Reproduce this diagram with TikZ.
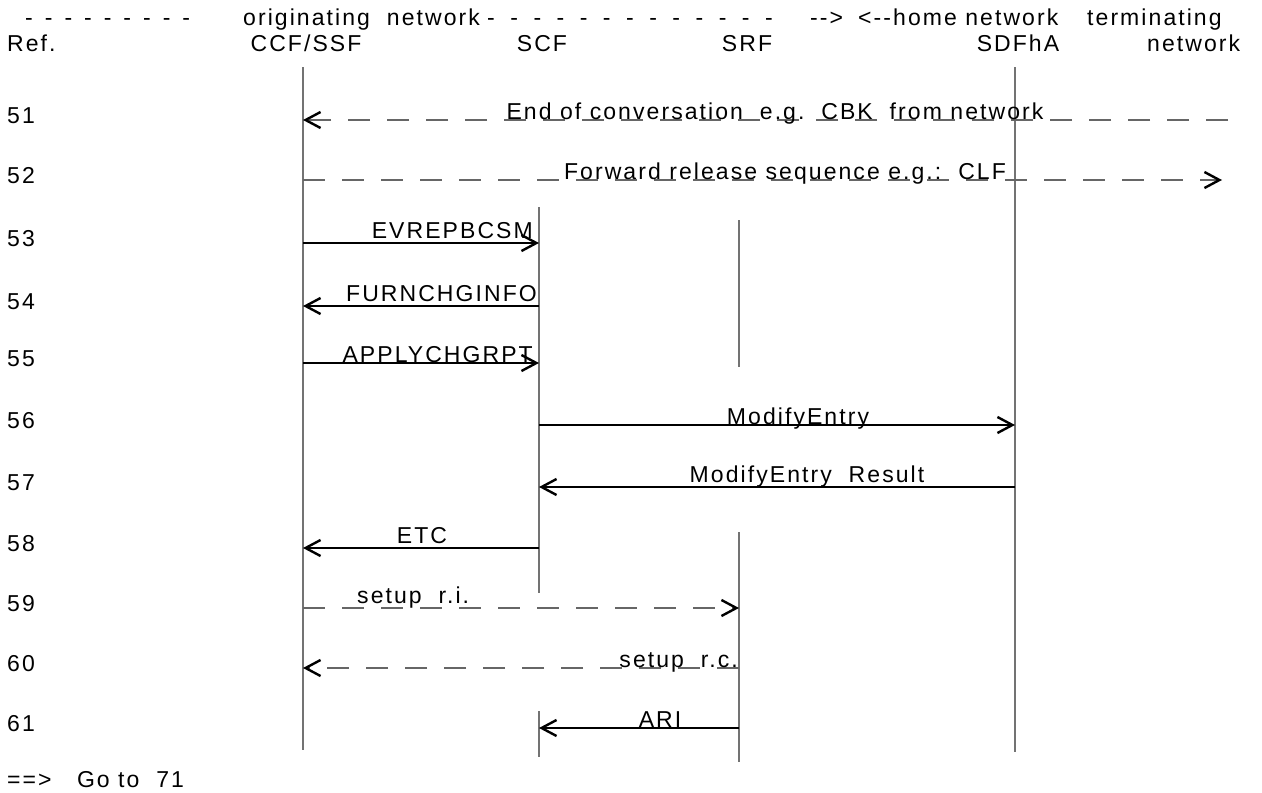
\documentclass[tikz,border=0pt]{standalone}
\usepackage{fontspec}
\setmainfont{Liberation Sans}[LetterSpace=9]
\usetikzlibrary{arrows.meta}
\newcommand\hdA{-\hspace{12pt}}
\newcommand\hdB{-\hspace{15.5pt}}
\begin{document}
\begin{tikzpicture}[x=1pt,y=-1pt,
  every node/.style={inner sep=0pt, font=\fontsize{23}{27}\selectfont},
  life/.style={draw=black!55, line width=1.3pt},
  tip/.style={-{Straight Barb[length=15pt,width=16pt,line width=2.4pt,color=black]}},
  msg/.style={draw=black, line width=1.1pt, tip},
  dmsg/.style={draw=black!60, line width=1.2pt, dash pattern=on 22pt off 17pt, tip},
  lb/.style={anchor=base},
  lbw/.style={anchor=base west},
  lbe/.style={anchor=base east}]
\fill[white] (0,0) rectangle (1262,793);
\useasboundingbox (0,0) rectangle (1262,793);
% header
\node[lbw] (hd1) at (25,25) {\hdA\hdA\hdA\hdA\hdA\hdA\hdA\hdA-};
\node[lbw] (hon) at (243,25) {originating\ \ network};
\node[lbw] (hd2) at (487,25) {\hdB\hdB\hdB\hdB\hdB\hdB\hdB\hdB\hdB\hdB\hdB\hdB-};
\node[lbw] (har) at (810,25) {-{}->};
\node[lbw] (hhn) at (858,25) {<-{}-home network};
\node[lbw] (hterm) at (1087,25) {terminating};
\node[lbw] (href) at (7,51) {Ref.};
\node[lb] (hccf) at (306,51) {CCF/SSF};
\node[lb] (hscf) at (542,51) {SCF};
\node[lb] (hsrf) at (747,51) {SRF};
\node[lb] (hsdf) at (1018,51) {SDFhA};
\node[lbw] (hnet) at (1147,51) {network};
% lifelines
\coordinate (ccfT) at (303,67);  \coordinate (ccfB) at (303,750);
\coordinate (scfT) at (539,207); \coordinate (scfM) at (539,593);
\coordinate (scfT2) at (539,711); \coordinate (scfB) at (539,757);
\coordinate (srfT) at (739,220); \coordinate (srfM) at (739,367);
\coordinate (srfT2) at (739,532); \coordinate (srfB) at (739,762);
\coordinate (sdfT) at (1015,67); \coordinate (sdfB) at (1015,752);
\draw[life] (ccfT) -- (ccfB);
\draw[life] (scfT) -- (scfM);
\draw[life] (scfT2) -- (scfB);
\draw[life] (srfT) -- (srfM);
\draw[life] (srfT2) -- (srfB);
\draw[life] (sdfT) -- (sdfB);
% row numbers
\foreach \n/\y in {51/123,52/183,53/246,54/309,55/366,56/428,57/490,58/551,59/611,60/671,61/731}
  \node[lbw] (r\n) at (7,\y) {\n};
\node[lbw] (goto) at (7,787) {==>\ \ \ Go to\ \ 71};
% message end points
\coordinate (c51) at (303,120); \coordinate (x51) at (1228,120);
\coordinate (c52) at (303,180); \coordinate (x52) at (1222,180);
\coordinate (c53) at (303,243); \coordinate (s53) at (539,243);
\coordinate (c54) at (303,306); \coordinate (s54) at (539,306);
\coordinate (c55) at (303,363); \coordinate (s55) at (539,363);
\coordinate (s56) at (539,425); \coordinate (d56) at (1015,425);
\coordinate (s57) at (539,487); \coordinate (d57) at (1015,487);
\coordinate (c58) at (303,548); \coordinate (s58) at (539,548);
\coordinate (c59) at (303,608); \coordinate (t59) at (739,608);
\coordinate (c60) at (303,668); \coordinate (t60) at (739,668);
\coordinate (s61) at (539,728); \coordinate (t61) at (739,728);
% messages
\draw[dmsg] (x51) -- (c51);
\draw[dmsg] (c52) -- (x52);
\draw[msg] (c53) -- (s53);
\draw[msg] (s54) -- (c54);
\draw[msg] (c55) -- (s55);
\draw[msg] (s56) -- (d56);
\draw[msg] (d57) -- (s57);
\draw[msg] (s58) -- (c58);
\draw[dmsg] (c59) -- (t59);
\draw[dmsg] (t60) -- (c60);
\draw[msg] (t61) -- (s61);
% labels
\node[lb] (m51) at (775,119) {End of conversation\ \ e.g.\ \ CBK\ \ from network};
\node[lb] (m52) at (785,179) {Forward release sequence e.g.:\ \ CLF};
\node[lbe] (m53) at (533,238) {EVREPBCSM};
\node[lbe] (m54) at (537,301) {FURNCHGINFO};
\node[lbe] (m55) at (533,362) {APPLYCHGRPT};
\node[lb] (m56) at (798,424) {ModifyEntry};
\node[lb] (m57) at (807,482) {ModifyEntry\ \ Result};
\node[lb] (m58) at (422,543) {ETC};
\node[lbw] (m59) at (357,603) {setup\ \ r.i.};
\node[lbe] (m60) at (738,667) {setup\ \ r.c.};
\node[lb] (m61) at (660,727) {ARI};
\end{tikzpicture}
\end{document}
